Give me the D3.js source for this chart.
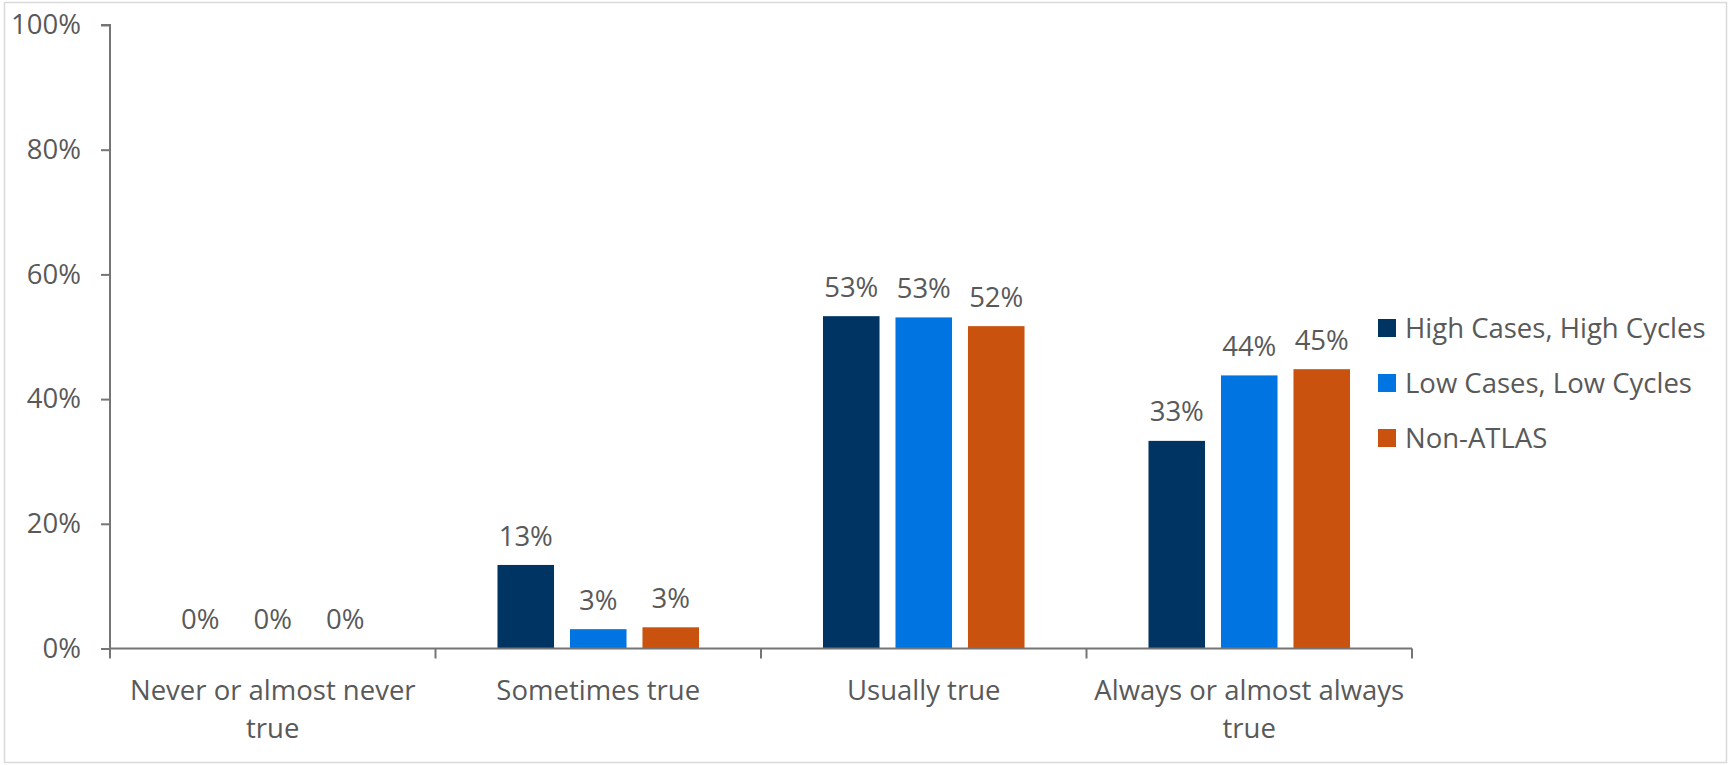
<!DOCTYPE html>
<html>
<head>
<meta charset="utf-8">
<script src="https://cdn.jsdelivr.net/npm/d3@7"></script>
<style>
  html, body { margin: 0; padding: 0; background: #ffffff; }
  svg text { font-family: "Open Sans", "Noto Sans", sans-serif; fill: #595959; }
</style>
</head>
<body>
<svg id="chart" width="1730" height="765"></svg>
<script>
// Survey responses by group (percent of respondents)
const categories = [
  "Never or almost never true",
  "Sometimes true",
  "Usually true",
  "Always or almost always true"
];
const seriesNames = ["High Cases, High Cycles", "Low Cases, Low Cycles", "Non-ATLAS"];
const highCasesHighCycles = [0, 13.4, 53.3, 33.3];
const lowCasesLowCycles = [0, 3.1, 53.1, 43.8];
const nonAtlas = [0, 3.4, 51.7, 44.8];
const yTickValues = [0, 20, 40, 60, 80, 100];
const seriesColors = ["#003462", "#0074E0", "#C8520E"];

const seriesValues = [highCasesHighCycles, lowCasesLowCycles, nonAtlas];
const FONT = 27.5;

const svg = d3.select("#chart");

// outer frame
svg.append("rect")
  .attr("x", 4.5).attr("y", 2.5)
  .attr("width", 1722).attr("height", 760)
  .attr("fill", "none").attr("stroke", "#d9d9d9").attr("stroke-width", 1.5);

const plot = { left: 110, right: 1412, top: 25, bottom: 648.5 };

const x0 = d3.scaleBand()
  .domain(categories)
  .range([plot.left, plot.right])
  .paddingInner(0).paddingOuter(0);

const x1 = d3.scaleBand()
  .domain(seriesNames)
  .range([0, x0.bandwidth()])
  .paddingInner(0.22)
  .paddingOuter(0.855);

const y = d3.scaleLinear().domain([0, 100]).range([plot.bottom, plot.top]);

const color = d3.scaleOrdinal().domain(seriesNames).range(seriesColors);

// bars
const rows = categories.map((c, i) => ({
  category: c,
  values: seriesNames.map((s, j) => ({ series: s, value: seriesValues[j][i] }))
}));

const groups = svg.append("g").selectAll("g")
  .data(rows).join("g")
  .attr("transform", d => `translate(${x0(d.category)},0)`);

groups.selectAll("rect")
  .data(d => d.values).join("rect")
  .attr("x", d => x1(d.series))
  .attr("width", x1.bandwidth())
  .attr("y", d => y(d.value))
  .attr("height", d => y(0) - y(d.value))
  .attr("fill", d => color(d.series));

// value labels
const fmt = v => d3.format(".0f")(v) + "%";
groups.selectAll("text.value")
  .data(d => d.values).join("text")
  .attr("class", "value")
  .attr("x", d => x1(d.series) + x1.bandwidth() / 2)
  .attr("y", d => y(d.value) - 29)
  .attr("dy", "0.35em")
  .attr("text-anchor", "middle")
  .style("font-size", FONT + "px")
  .text(d => fmt(d.value));

// y axis
const yAxis = svg.append("g")
  .attr("transform", `translate(${plot.left},0)`)
  .call(d3.axisLeft(y).tickValues(yTickValues).tickSize(9).tickPadding(20).tickFormat(d => d + "%"));
yAxis.selectAll("path, line").attr("stroke", "#757575").attr("stroke-width", 2);
yAxis.select("path").attr("d", `M-9,${y(100)}H0V${y(0)}`);
yAxis.selectAll("text").style("font-size", FONT + "px").attr("fill", "#595959");

// x axis
const xAxis = svg.append("g")
  .attr("transform", `translate(0,${plot.bottom})`)
  .call(d3.axisBottom(x0).tickSize(0).tickPadding(0));
xAxis.select("path").attr("stroke", "#757575").attr("stroke-width", 2)
  .attr("d", `M${plot.left},0H${plot.right}`);
xAxis.selectAll(".tick text").remove();

// category boundary ticks
const boundaries = categories.map(c => x0(c)).concat([x0.range()[1]]);
xAxis.selectAll("line.boundary")
  .data(boundaries).join("line")
  .attr("class", "boundary")
  .attr("x1", d => d).attr("x2", d => d)
  .attr("y1", 0).attr("y2", 10)
  .attr("stroke", "#757575").attr("stroke-width", 2);

// category labels, wrapped to the band width
const catLabels = xAxis.selectAll("text.cat")
  .data(categories).join("text")
  .attr("class", "cat")
  .attr("x", d => x0(d) + x0.bandwidth() / 2)
  .attr("y", 42)
  .attr("text-anchor", "middle")
  .style("font-size", FONT + "px");

catLabels.each(function(d) {
  const el = d3.select(this);
  const words = d.split(" ");
  const maxW = x0.bandwidth() - 15;
  let line = [];
  let lines = [];
  const probe = el.append("tspan");
  words.forEach(w => {
    const test = line.concat([w]).join(" ");
    probe.text(test);
    if (probe.node().getComputedTextLength() > maxW && line.length) {
      lines.push(line.join(" "));
      line = [w];
    } else {
      line.push(w);
    }
  });
  lines.push(line.join(" "));
  probe.remove();
  lines.forEach((t, i) => {
    el.append("tspan")
      .attr("x", x0(d) + x0.bandwidth() / 2)
      .attr("y", 42 + i * 38)
      .attr("dy", "0.35em")
      .text(t);
  });
});

// legend
const legend = svg.append("g").attr("transform", "translate(1378,328)");
const items = legend.selectAll("g")
  .data(seriesNames).join("g")
  .attr("transform", (d, i) => `translate(0,${i * 55})`);
items.append("rect")
  .attr("x", 0).attr("y", -9)
  .attr("width", 18).attr("height", 18)
  .attr("fill", d => color(d));
items.append("text")
  .attr("x", 27).attr("y", 0)
  .attr("dy", "0.35em")
  .style("font-size", FONT + "px")
  .text(d => d);
</script>
</body>
</html>
